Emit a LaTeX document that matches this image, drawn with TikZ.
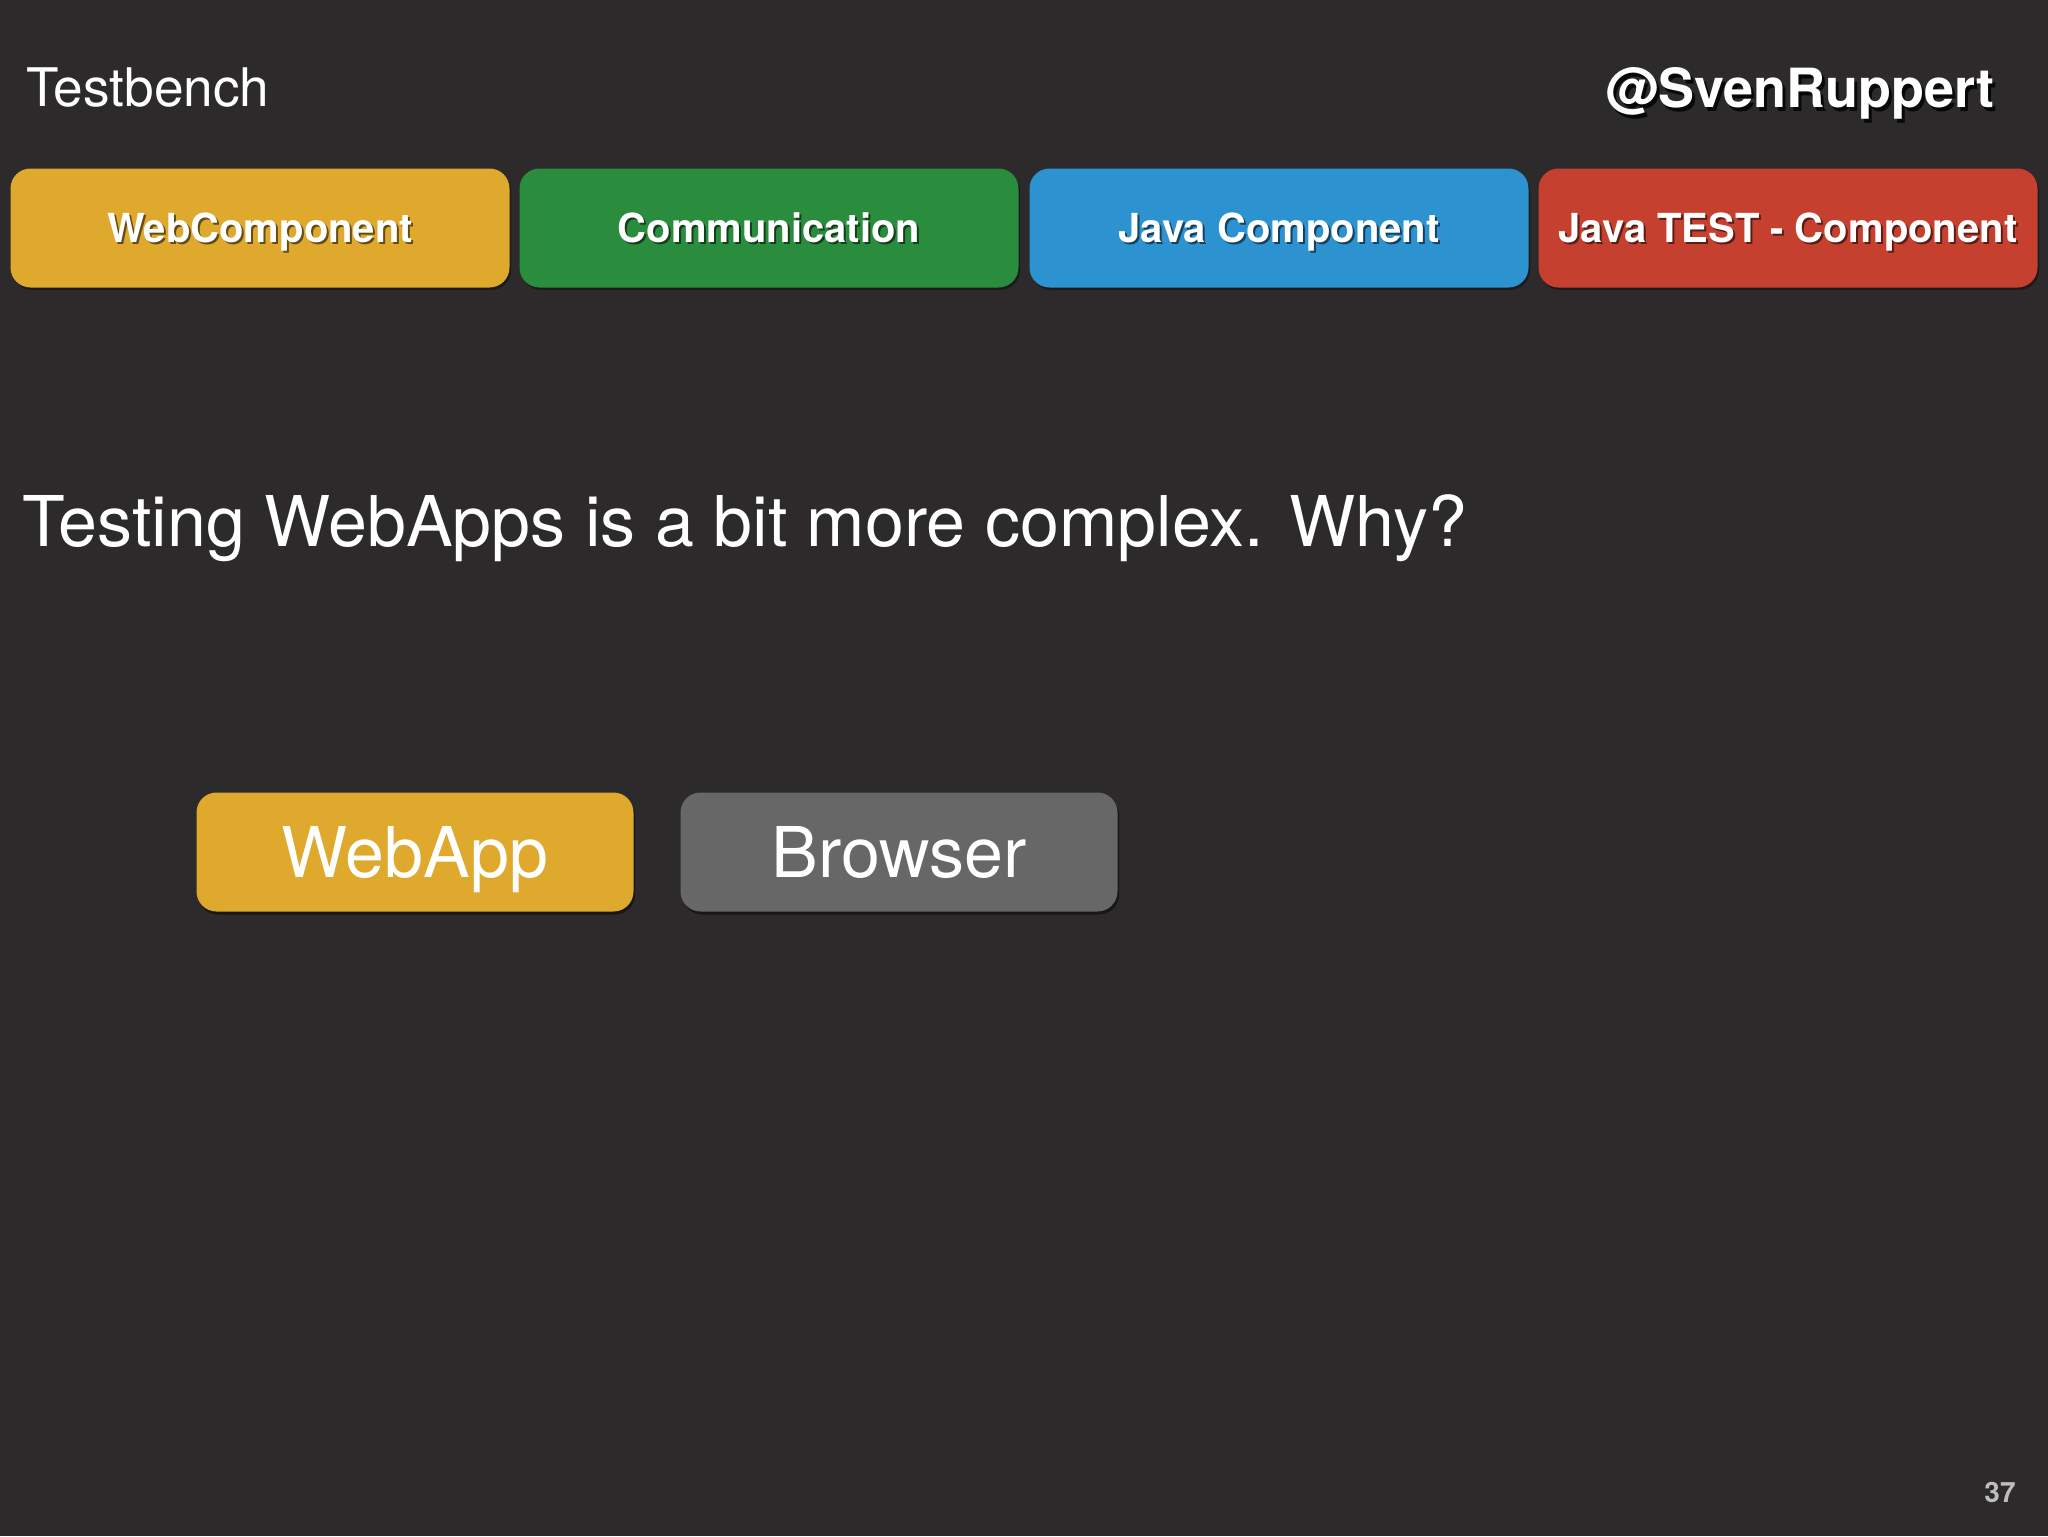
\documentclass[tikz,border=0pt]{standalone}
\usepackage{fontspec}
\setmainfont{TeX Gyre Heros}
\usetikzlibrary{shadows}
\definecolor{bg}{HTML}{2C2A2A}
\definecolor{cyellow}{HTML}{DFA92E}
\definecolor{cgreen}{HTML}{2A8D3D}
\definecolor{cblue}{HTML}{2C93D0}
\definecolor{cred}{HTML}{C6402F}
\definecolor{cgrey}{HTML}{686768}
\definecolor{pnum}{HTML}{BDBDBD}
\newcommand\shd[2]{\leavevmode\rlap{\kern0.05em\raisebox{-0.06em}{\textcolor{#1}{#2}}}#2}
\tikzset{
  x=0.5pt, y=-0.5pt,
  tab/.style={rounded corners=10pt, minimum width=249.5pt, minimum height=59.5pt,
    inner sep=0pt, text=white, font=\fontsize{20}{24}\selectfont\bfseries,
    text height=14.4pt, text depth=0pt,
    drop shadow={shadow xshift=0.8pt, shadow yshift=-1.2pt, opacity=0.35, fill=black}},
  bigbox/.style={rounded corners=10pt, minimum width=218.5pt, minimum height=59.5pt,
    inner sep=0pt, text=white, font=\fontsize{35}{40}\selectfont,
    text height=25.2pt, text depth=0pt,
    drop shadow={shadow xshift=0.8pt, shadow yshift=-1.5pt, opacity=0.45, fill=black}},
  plain/.style={inner sep=0pt, text=white}
}
\begin{document}
\begin{tikzpicture}
\useasboundingbox[fill=bg] (0,0) rectangle (2048,1536);
% header
\node[plain, anchor=base west, font=\fontsize{26.6}{30}\selectfont] (title) at (26,106) {Testbench};
\node[plain, anchor=base east, font=\fontsize{27}{32}\selectfont\bfseries] (author) at (1995,108) {\shd{black!80!bg}{@SvenRuppert}};
% tabs
\node[tab, fill=cyellow] (web) at (260,228) {\shd{black!55!cyellow}{WebComponent}};
\node[tab, fill=cgreen] (comm) at (769,228) {\shd{black!55!cgreen}{Communication}};
\node[tab, fill=cblue] (java) at (1279,228) {\shd{black!55!cblue}{Java Component}};
\node[tab, fill=cred] (jtest) at (1788,228) {\shd{black!55!cred}{Java TEST - Component}};
% main statement
\node[plain, anchor=base west, font=\fontsize{35}{40}\selectfont] (question) at (22,546) {Testing WebApps is a bit more complex. Why?};
% boxes
\node[bigbox, fill=cyellow] (webapp) at (415,852) {WebApp};
\node[bigbox, fill=cgrey] (browser) at (899,852) {Browser};
% page number
\node[plain, anchor=base, text=pnum, font=\fontsize{14}{16}\selectfont\bfseries] (page) at (2000,1502) {37};
\end{tikzpicture}
\end{document}
